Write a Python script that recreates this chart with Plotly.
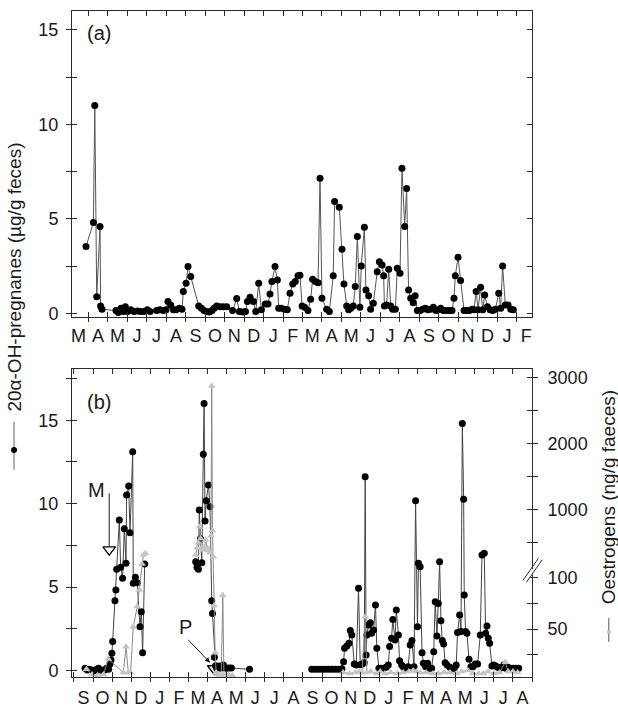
import plotly.graph_objects as go

# ---------------- data ----------------
# month index: panel (a) 0 = 1 March (year 1); panel (b) 0 = 1 September (year 1)
MONTHS_A = ["M", "A", "M", "J", "J", "A", "S", "O", "N", "D", "J", "F"] * 2
MONTHS_B = ["S", "O", "N", "D", "J", "F", "M", "A", "M", "J", "J", "A"] * 2

a_month = [0.88, 1.26, 1.33, 1.43, 1.60, 1.63, 1.70, 2.42, 2.54, 2.68, 2.80, 2.90, 3.02, 3.18,
           3.35, 3.52, 3.69, 3.86, 4.03, 4.17, 4.51, 4.68, 4.85, 4.99, 5.09, 5.23, 5.37, 5.50,
           5.67, 5.81, 5.88, 6.02, 6.12, 6.26, 6.67, 6.81, 6.94, 7.08, 7.22, 7.35, 7.46, 7.59,
           7.76, 7.93, 8.11, 8.41, 8.62, 8.76, 8.93, 9.07, 9.17, 9.31, 9.48, 9.60, 9.75, 9.89,
           10.09, 10.23, 10.33, 10.43, 10.59, 10.71, 10.78, 10.91, 11.08, 11.22, 11.36, 11.50,
           11.63, 11.77, 11.87, 11.98, 12.11, 12.28, 12.42, 12.52, 12.66, 12.80, 12.90, 13.00,
           13.24, 13.38, 13.58, 13.65, 13.89, 14.03, 14.13, 14.27, 14.37, 14.48, 14.61, 14.71,
           14.82, 14.95, 15.02, 15.18, 15.26, 15.40, 15.50, 15.64, 15.84, 15.95, 16.09, 16.17,
           16.21, 16.32, 16.43, 16.53, 16.63, 16.77, 16.87, 17.01, 17.11, 17.25, 17.35, 17.45,
           17.56, 17.69, 17.79, 17.90, 18.04, 18.17, 18.31, 18.45, 18.58, 18.72, 18.86, 18.99,
           19.10, 19.24, 19.37, 19.54, 19.68, 19.78, 19.85, 19.99, 20.12, 20.30, 20.43, 20.57,
           20.71, 20.81, 20.92, 21.02, 21.15, 21.26, 21.36, 21.50, 21.64, 21.77, 21.91, 22.08,
           22.18, 22.28, 22.42, 22.56, 22.70, 22.83]
a_preg = [3.53, 4.80, 11.0, 0.88, 4.59, 0.39, 0.21, 0.14, 0.04, 0.26, 0.09, 0.35, 0.09, 0.18,
          0.09, 0.12, 0.09, 0.09, 0.18, 0.09, 0.14, 0.18, 0.14, 0.18, 0.62, 0.44, 0.18, 0.18,
          0.26, 0.21, 1.15, 1.59, 2.47, 1.94, 0.39, 0.26, 0.14, 0.09, 0.07, 0.14, 0.26, 0.39,
          0.35, 0.35, 0.35, 0.14, 0.78, 0.09, 0.07, 0.09, 0.62, 0.85, 0.62, 0.09, 1.59, 0.18,
          0.49, 0.49, 1.02, 1.68, 2.47, 1.76, 0.26, 0.26, 0.21, 0.18, 1.06, 1.55,
          1.68, 1.98, 2.01, 0.39, 0.32, 0.14, 0.74, 1.80, 1.68, 1.62, 7.14, 0.79,
          0.21, 0.09, 1.98, 5.91, 5.61, 3.39, 1.55, 0.39, 0.18, 0.26, 0.39, 1.41,
          4.06, 0.32, 2.50, 4.55, 1.23, 0.92, 0.21, 0.53, 2.20, 2.73, 2.56, 1.98,
          0.39, 0.44, 2.33, 0.39, 0.21, 0.21, 2.38, 2.12, 7.67, 4.59, 6.61, 1.23,
          0.79, 0.56, 0.92, 0.14, 0.14, 0.21, 0.26, 0.18, 0.21, 0.32, 0.14, 0.18,
          0.26, 0.14, 0.14, 0.14, 0.14, 0.79, 1.98, 2.96, 1.73, 0.14, 0.14, 0.14,
          0.21, 0.18, 1.15, 0.18, 1.38, 0.18, 0.97, 0.35, 0.18, 0.14, 0.21, 1.06,
          0.26, 2.50, 0.44, 0.44, 0.21, 0.18]

b_month = [0.58, 0.70, 0.80, 0.93, 1.05, 1.19, 1.29, 1.40, 1.50, 1.61, 1.71, 1.82, 1.89, 1.94,
           1.99, 2.03, 2.15, 2.20, 2.24, 2.38, 2.45, 2.55, 2.64, 2.73, 2.76, 2.87, 2.94, 3.08,
           3.11, 3.22, 3.32, 3.46, 3.53, 3.60, 3.71, 5.0,
           6.38, 6.45, 6.52, 6.57, 6.63, 6.70, 6.78, 6.82, 6.87, 6.93, 7.05, 7.13, 7.22, 7.26,
           7.36, 7.42, 7.48, 7.55, 7.62, 7.70, 7.78, 7.83, 7.92, 8.02, 8.12, 8.25, 9.20, 11.0,
           12.46, 12.64, 12.81, 12.99, 13.16, 13.34, 13.51, 13.69, 13.86, 14.04, 14.13, 14.18,
           14.30, 14.41, 14.48, 14.56, 14.69, 14.79, 14.91, 15.00, 15.11, 15.21, 15.26, 15.31,
           15.35, 15.44, 15.53, 15.59, 15.70, 15.80, 15.87, 15.98, 16.08, 16.22, 16.36, 16.47,
           16.54, 16.64, 16.71, 16.82, 16.89, 17.00, 17.06, 17.17, 17.27, 17.41, 17.51, 17.62,
           17.71, 17.82, 17.90, 18.00, 18.05, 18.14, 18.24, 18.31, 18.43, 18.53, 18.64, 18.74,
           18.85, 18.93, 19.02, 19.09, 19.16, 19.23, 19.30, 19.37, 19.45, 19.55, 19.69, 19.81,
           19.93, 20.03, 20.10, 20.21, 20.28, 20.35, 20.42, 20.45, 20.52, 20.59, 20.70, 20.80,
           20.91, 21.03, 21.15, 21.29, 21.38, 21.50, 21.57, 21.64, 21.71, 21.78, 21.90, 21.99,
           22.10, 22.20, 22.31, 22.41, 22.52, 22.62, 22.73, 22.87, 23.01, 23.15, 23.30]
b_preg = [0.14, 0.04, 0.08, 0.04, 0.0, 0.08, 0.14, 0.04, 0.02, 0.04, 0.14, 0.08, 0.40, 0.64,
          1.04, 1.74, 4.19, 4.83, 6.07, 9.02, 6.19, 5.53, 8.50, 6.43, 10.52, 11.06, 8.26, 13.11,
          5.23, 5.59, 5.27, 2.63, 3.53, 1.08, 6.39, None,
          6.53, 6.20, 6.07, 9.62, 7.90, 6.47, 12.97, 16.0, 8.96, 10.18, 11.12, 9.82, 4.19, 3.43,
          0.80, 0.30, 0.14, 0.20, 0.28, 0.14, 0.20, 0.34, 0.16, 0.14, 0.16, 0.16, 0.08, None,
          0.08, 0.08, 0.08, 0.08, 0.08, 0.08, 0.08, 0.08, 0.08, 0.12, 0.54, 1.34,
          1.48, 1.64, 2.40, 2.14, 0.40, 0.34, 4.93, 0.35, 0.40, 0.48, 11.62, 0.94,
          2.14, 2.73, 2.87, 2.24, 2.44, 3.93, 1.34, 0.14, 0.14, 0.14, 0.20, 0.34,
          1.44, 1.94, 3.07, 1.84, 3.63, 2.14, 0.60, 0.34, 0.20, 0.14, 0.24, 1.54,
          1.80, 0.24, 10.18, 2.63, 6.43, 6.23, 1.08, 0.44, 0.24, 0.44, 0.14, 0.14,
          1.14, 4.13, 2.08, 4.03, 6.53, 2.99, 1.80, 1.60, 0.48, 0.34, 0.20, 0.14,
          0.14, 0.34, 2.28, 3.33, 2.34, 14.81, 10.26, 4.53, 2.34, 2.24, 0.68, 0.24,
          0.24, 0.40, 0.40, 2.14, 6.93, 7.03, 2.24, 2.67, 1.94, 1.64, 0.28, 0.34,
          0.28, 0.20, 0.14, 0.20, 0.34, 0.14, 0.20, 0.14, 0.14, 0.14, 0.14]

b_oe_month = [0.66, 0.95, 1.25, 1.55, 1.80, 2.59, 2.73, 2.85, 2.97, 3.11, 3.32, 3.43, 3.57, 3.64,
              3.74, 5.0,
              6.38, 6.45, 6.52, 6.57, 6.64, 6.70, 6.78, 6.86, 6.90, 6.98, 7.06, 7.13, 7.18, 7.22,
              7.26, 7.30, 7.35, 7.40, 7.45, 7.52, 7.62, 7.72, 7.80, 7.86, 7.95, 8.10, 8.30, 11.0,
              14.10, 14.45, 14.75, 14.95, 15.10, 15.26, 15.35, 15.55, 15.85, 16.05, 16.30, 16.60,
              16.95, 17.25, 17.55, 17.78, 17.95, 18.15, 18.45, 18.80, 19.10, 19.40, 19.70, 20.05,
              20.30, 20.65, 20.90, 21.20, 21.45, 21.70, 22.00, 22.30, 22.60, 22.75, 23.00, 23.25]
b_oe = [11, 6, 5, 6, 21, 8, 33, 8, 8, 52, 72, 88, 174, 310,
        336, None,
        310, 420, 496, 738, 560, 420, 386, 450, 536, 420, 380, 346, 600, 2868,
        680, 285, 73, 27, 8, 6, 5, 6, 83, 6, 5, 6, 5, None,
        8, 7, 8, 9, 8, 62, 8, 9, 7, 9, 7, 8,
        7, 8, 9, 10, 9, 8, 8, 7, 7, 8, 8, 7,
        9, 10, 7, 7, 7, 9, 7, 8, 18, 9, 9, 8]

event_month = [1.85, 7.33]
event_level = [7.25, 0.13]
event_label = ["M", "P"]

left_ticks = [0, 2.5, 5, 7.5, 10, 12.5, 15]
left_ticks_b = [0, 2.5, 5, 7.5, 10, 12.5, 15, 17.5]
oe_tick_vals = [25, 50, 75, 100, 500, 1000, 1500, 2000, 2500, 3000]
oe_tick_text = ["", "50", "", "100", "", "1000", "", "2000", "", "3000"]


# broken right axis: 0-100 linear below the break, 100-3000 linear above it
def oe_axis(v):
    if v is None:
        return None
    return -0.6 + v * 0.0617 if v <= 100 else 5.70 + v * 0.003957


# ---------------- style ----------------
FONT = "Liberation Sans, Arial, Helvetica, sans-serif"
AX = "#2b2b2b"
XA_RANGE = [0.16, 23.79]
XB_RANGE = [-0.1, 24.0]
YA_RANGE = [-0.2, 16.0]
YB_RANGE = [-0.38, 18.07]
DOM_A = [0.5405, 1.0]
DOM_B = [0.0, 0.4625]
bounds = list(range(0, 25))
mids = [i + 0.5 for i in range(24)]

fig = go.Figure()

fig.add_trace(go.Scatter(x=a_month, y=a_preg, mode="lines+markers", xaxis="x", yaxis="y",
                         line=dict(color="#555555", width=1),
                         marker=dict(color="black", size=7), cliponaxis=False, showlegend=False))

fig.add_trace(go.Scatter(x=b_oe_month, y=[oe_axis(v) for v in b_oe], mode="lines+markers",
                         xaxis="x2", yaxis="y3", connectgaps=False,
                         line=dict(color="#8a8a8a", width=1),
                         marker=dict(color="#c4c4c4", size=7, symbol="triangle-up"),
                         cliponaxis=False, showlegend=False))
fig.add_trace(go.Scatter(x=b_month, y=b_preg, mode="lines+markers", xaxis="x2", yaxis="y2",
                         connectgaps=False, line=dict(color="#444444", width=1),
                         marker=dict(color="black", size=7), cliponaxis=False, showlegend=False))
fig.add_trace(go.Scatter(x=event_month, y=event_level, mode="markers", xaxis="x2", yaxis="y2",
                         marker=dict(symbol="triangle-down-open", size=11, color="black",
                                     line=dict(width=1.3, color="black")),
                         cliponaxis=False, showlegend=False))

# empty traces that carry the overlay axes used for crossing / inside ticks
for xa, ya in [("x3", "y"), ("x", "y4"), ("x4", "y2"), ("x2", "y5"), ("x2", "y6")]:
    fig.add_trace(go.Scatter(x=[None], y=[None], xaxis=xa, yaxis=ya, mode="markers",
                             showlegend=False, hoverinfo="skip"))

tickfont = dict(family=FONT, size=18, color="#1a1a1a")
BASE = dict(showgrid=False, zeroline=False, automargin=False)


def label_x(anchor, rng, text, standoff):
    return dict(anchor=anchor, range=rng, tickmode="array", tickvals=mids, ticktext=text,
                ticks="outside", ticklen=0, tickfont=tickfont, showline=True, linecolor=AX,
                linewidth=1, ticklabelstandoff=standoff,
                minor=dict(tickmode="array", tickvals=bounds, ticks="outside", ticklen=4,
                           tickcolor=AX, tickwidth=1, showgrid=False), **BASE)


def inner_x(base, anchor, rng):
    return dict(overlaying=base, anchor=anchor, range=rng, tickmode="array", tickvals=bounds,
                ticks="inside", ticklen=5, tickcolor=AX, showticklabels=False, showline=True,
                linecolor=AX, linewidth=1, mirror="ticks", **BASE)


fig.update_layout(
    width=618, height=708,
    margin=dict(l=72, r=86, t=11, b=31, autoexpand=False),
    paper_bgcolor="white", plot_bgcolor="white",
    font=dict(family=FONT, size=18, color="#1a1a1a"),
    xaxis=dict(domain=[0, 1], **label_x("y", XA_RANGE, MONTHS_A, 2)),
    xaxis2=dict(domain=[0, 1], **label_x("y2", XB_RANGE, MONTHS_B, 4)),
    xaxis3=inner_x("x", "y", XA_RANGE),
    xaxis4=inner_x("x2", "y2", XB_RANGE),
    yaxis=dict(domain=DOM_A, anchor="x", range=YA_RANGE, tickmode="array", tickvals=left_ticks,
               ticktext=["0", "", "5", "", "10", "", "15"], ticks="outside", ticklen=5,
               tickcolor=AX, tickfont=tickfont, showline=True, linecolor=AX,
               ticklabelstandoff=4, **BASE),
    yaxis4=dict(overlaying="y", anchor="x", range=YA_RANGE, tickmode="array",
                tickvals=left_ticks, ticks="inside", ticklen=5, tickcolor=AX,
                showticklabels=False, showline=True, linecolor=AX, mirror="ticks", **BASE),
    yaxis2=dict(domain=DOM_B, anchor="x2", range=YB_RANGE, tickmode="array",
                tickvals=left_ticks_b, ticktext=["0", "", "5", "", "10", "", "15", ""],
                ticks="outside", ticklen=5, tickcolor=AX, tickfont=tickfont, showline=True,
                linecolor=AX, ticklabelstandoff=4, **BASE),
    yaxis5=dict(overlaying="y2", anchor="x2", range=YB_RANGE, tickmode="array",
                tickvals=left_ticks_b, ticks="inside", ticklen=5, tickcolor=AX,
                showticklabels=False, showline=False, **BASE),
    yaxis3=dict(overlaying="y2", anchor="x2", side="right", range=YB_RANGE, tickmode="array",
                tickvals=[oe_axis(v) for v in oe_tick_vals], ticktext=oe_tick_text,
                ticks="outside", ticklen=5, tickcolor=AX, tickfont=tickfont, showline=True,
                linecolor=AX, ticklabelstandoff=6, **BASE),
    yaxis6=dict(overlaying="y2", anchor="x2", side="right", range=YB_RANGE, tickmode="array",
                tickvals=[oe_axis(v) for v in oe_tick_vals], ticks="inside", ticklen=5,
                tickcolor=AX, showticklabels=False, showline=False, **BASE),
)

C = dict(xanchor="center", yanchor="middle", showarrow=False)
ann = [
    dict(text="(a)", x=0.0587, y=0.967, xref="paper", yref="paper", font=dict(size=20), **C),
    dict(text="(b)", x=0.0593, y=0.413, xref="paper", yref="paper", font=dict(size=20), **C),
    dict(text="20\u03b1-OH-pregnanes (\u00b5g/g feces)", textangle=-90, x=-0.126, y=0.5998,
         xref="paper", yref="paper", font=dict(size=19), **C),
    dict(text="Oestrogens (ng/g faeces)", textangle=-90, x=1.167, y=0.2695,
         xref="paper", yref="paper", font=dict(size=19), **C),
    dict(text=event_label[0], x=1.19, y=10.82, xref="x2", yref="y2", font=dict(size=20), **C),
    dict(text=event_label[1], x=5.82, y=2.63, xref="x2", yref="y2", font=dict(size=20), **C),
    dict(text="", x=7.13, y=0.48, xref="x2", yref="y2", ax=5.91, ay=1.94, axref="x2",
         ayref="y2", showarrow=True, arrowhead=2, arrowsize=1, arrowwidth=1,
         arrowcolor="#1a1a1a", standoff=0),
]
fig.update_layout(annotations=ann)

shapes = [
    # M marker stem
    dict(type="line", xref="x2", yref="y2", x0=event_month[0], x1=event_month[0],
         y0=7.45, y1=10.62, line=dict(color="#1a1a1a", width=1)),
    # axis-break marks on the right axis
    dict(type="line", xref="paper", yref="y2", x0=0.985, x1=1.020, y0=5.30, y1=6.65,
         line=dict(color="white", width=3)),
    dict(type="line", xref="paper", yref="y2", x0=0.980, x1=1.014, y0=5.40, y1=6.73,
         line=dict(color=AX, width=1)),
    dict(type="line", xref="paper", yref="y2", x0=0.988, x1=1.022, y0=5.30, y1=6.63,
         line=dict(color=AX, width=1)),
    # legend keys beside the axis titles
    dict(type="line", xref="paper", yref="paper", x0=-0.126, x1=-0.126, y0=0.311, y1=0.383,
         line=dict(color="#666666", width=1)),
    dict(type="circle", xref="paper", yref="paper", x0=-0.126 - 3 / 460, x1=-0.126 + 3 / 460,
         y0=0.341 - 3 / 666, y1=0.341 + 3 / 666, fillcolor="black", line=dict(width=0)),
    dict(type="line", xref="paper", yref="paper", x0=1.167, x1=1.167, y0=0.0526, y1=0.0886,
         line=dict(color="#555555", width=1)),
    dict(type="circle", xref="paper", yref="paper", x0=1.167 - 2 / 460, x1=1.167 + 2 / 460,
         y0=0.0676 - 2 / 666, y1=0.0676 + 2 / 666, fillcolor="#bdbdbd", line=dict(width=0)),
]
fig.update_layout(shapes=shapes)

fig.write_html("out.html")
